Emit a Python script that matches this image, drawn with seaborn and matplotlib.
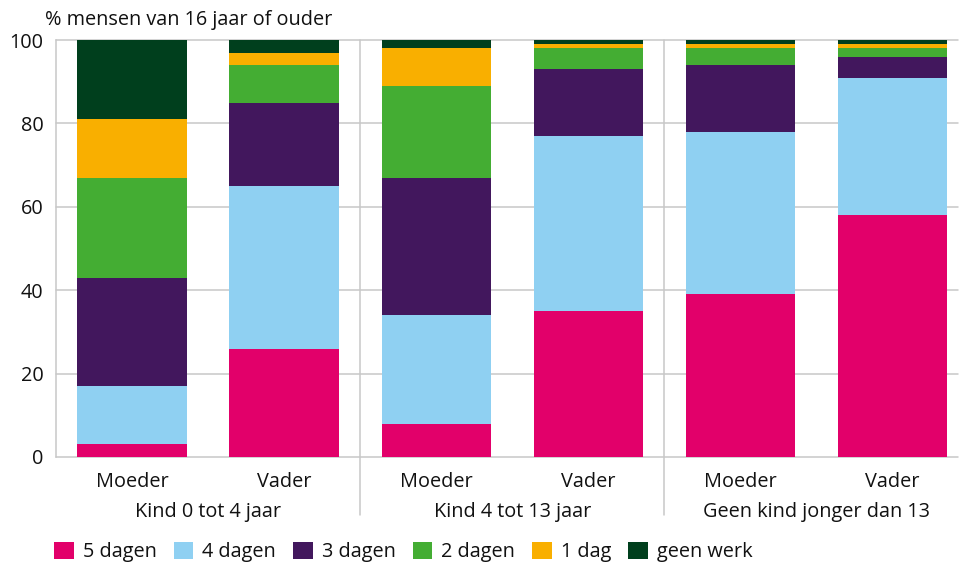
import matplotlib
matplotlib.use("Agg")
import matplotlib.pyplot as plt
import matplotlib.transforms as mtransforms
from matplotlib.patches import Patch
import numpy as np
import pandas as pd
import seaborn as sns

# ---------------------------------------------------------------------------
# Data: share of people (16+) by number of working days, per parent / group
# ---------------------------------------------------------------------------
bar_labels = ["Moeder", "Vader", "Moeder", "Vader", "Moeder", "Vader"]
group_labels = ["Kind 0 tot 4 jaar", "Kind 4 tot 13 jaar", "Geen kind jonger dan 13"]
categories = ["5 dagen", "4 dagen", "3 dagen", "2 dagen", "1 dag", "geen werk"]

dagen_5 = [3, 26, 8, 35, 39, 58]
dagen_4 = [14, 39, 26, 42, 39, 33]
dagen_3 = [26, 20, 33, 16, 16, 5]
dagen_2 = [24, 9, 22, 5, 4, 2]
dag_1 = [14, 3, 9, 1, 1, 1]
geen_werk = [19, 3, 2, 1, 1, 1]

colors = ["#E2006A", "#8FD0F2", "#42175D", "#44AD33", "#F9AF00", "#003F1D"]

sns.set_style("white")
plt.rcParams["font.family"] = ["Open Sans", "DejaVu Sans"]
plt.rcParams["text.color"] = "#111111"
plt.rcParams["xtick.color"] = "#111111"
plt.rcParams["ytick.color"] = "#111111"

bar_ids = [str(i) for i in range(len(bar_labels))]
values_df = pd.DataFrame(
    [dagen_5, dagen_4, dagen_3, dagen_2, dag_1, geen_werk],
    index=categories,
    columns=bar_ids,
)
cumulative_df = values_df.cumsum(axis=0)

fig = plt.figure(figsize=(9.59, 5.64), dpi=100)
ax = fig.add_axes([56 / 959, (564 - 457) / 564, (958 - 56) / 959, 417 / 564])

# Stacked bars: draw the cumulative totals from the top segment downward
for category, color in reversed(list(zip(categories, colors))):
    sns.barplot(
        x=bar_ids,
        y=cumulative_df.loc[category].values,
        order=bar_ids,
        color=color,
        width=0.72,
        saturation=1,
        edgecolor="none",
        linewidth=0,
        ax=ax,
        zorder=2,
    )

ax.set_xlim(-0.5, 5.43)
ax.set_ylim(0, 100)
ax.set_yticks(np.arange(0, 101, 20))
ax.yaxis.grid(True, color="#c8c8c8", linewidth=1.1, zorder=0)
for line in ax.get_ygridlines():
    line.set_clip_on(False)
ax.set_axisbelow(True)
sns.despine(ax=ax, left=False, bottom=True, top=True, right=True)
ax.spines["left"].set_color("#c8c8c8")
ax.spines["left"].set_linewidth(1.1)

ax.set_xticks(range(len(bar_labels)))
ax.set_xticklabels(bar_labels)
ax.tick_params(axis="x", length=0, pad=11, labelsize=14.3)
ax.tick_params(axis="y", length=0, pad=9, labelsize=14.3)
ax.set_xlabel("")
ax.set_ylabel("")

# Group separators and group labels under the bar labels
trans = mtransforms.blended_transform_factory(ax.transData, ax.transAxes)
for sep in [1.5, 3.5]:
    ax.plot([sep, sep], [-0.14, 1], transform=trans, color="#c8c8c8",
            linewidth=1.1, clip_on=False, zorder=1)
for i, group in enumerate(group_labels):
    ax.text(2 * i + 0.5, -0.132, group, transform=trans, ha="center",
            va="center", fontsize=14.3)

fig.text(45 / 959, 1 - 20 / 564, "% mensen van 16 jaar of ouder",
         ha="left", va="center", fontsize=14.3)

handles = [Patch(facecolor=c, edgecolor="none") for c in colors]
fig.legend(
    handles,
    categories,
    loc="center left",
    bbox_to_anchor=(54 / 959, 1 - 552 / 564),
    ncol=6,
    frameon=False,
    fontsize=14.3,
    handlelength=1.0,
    handleheight=1.0,
    handletextpad=0.45,
    columnspacing=0.85,
    borderpad=0,
    borderaxespad=0,
)

fig.savefig("out.png", dpi=100)
